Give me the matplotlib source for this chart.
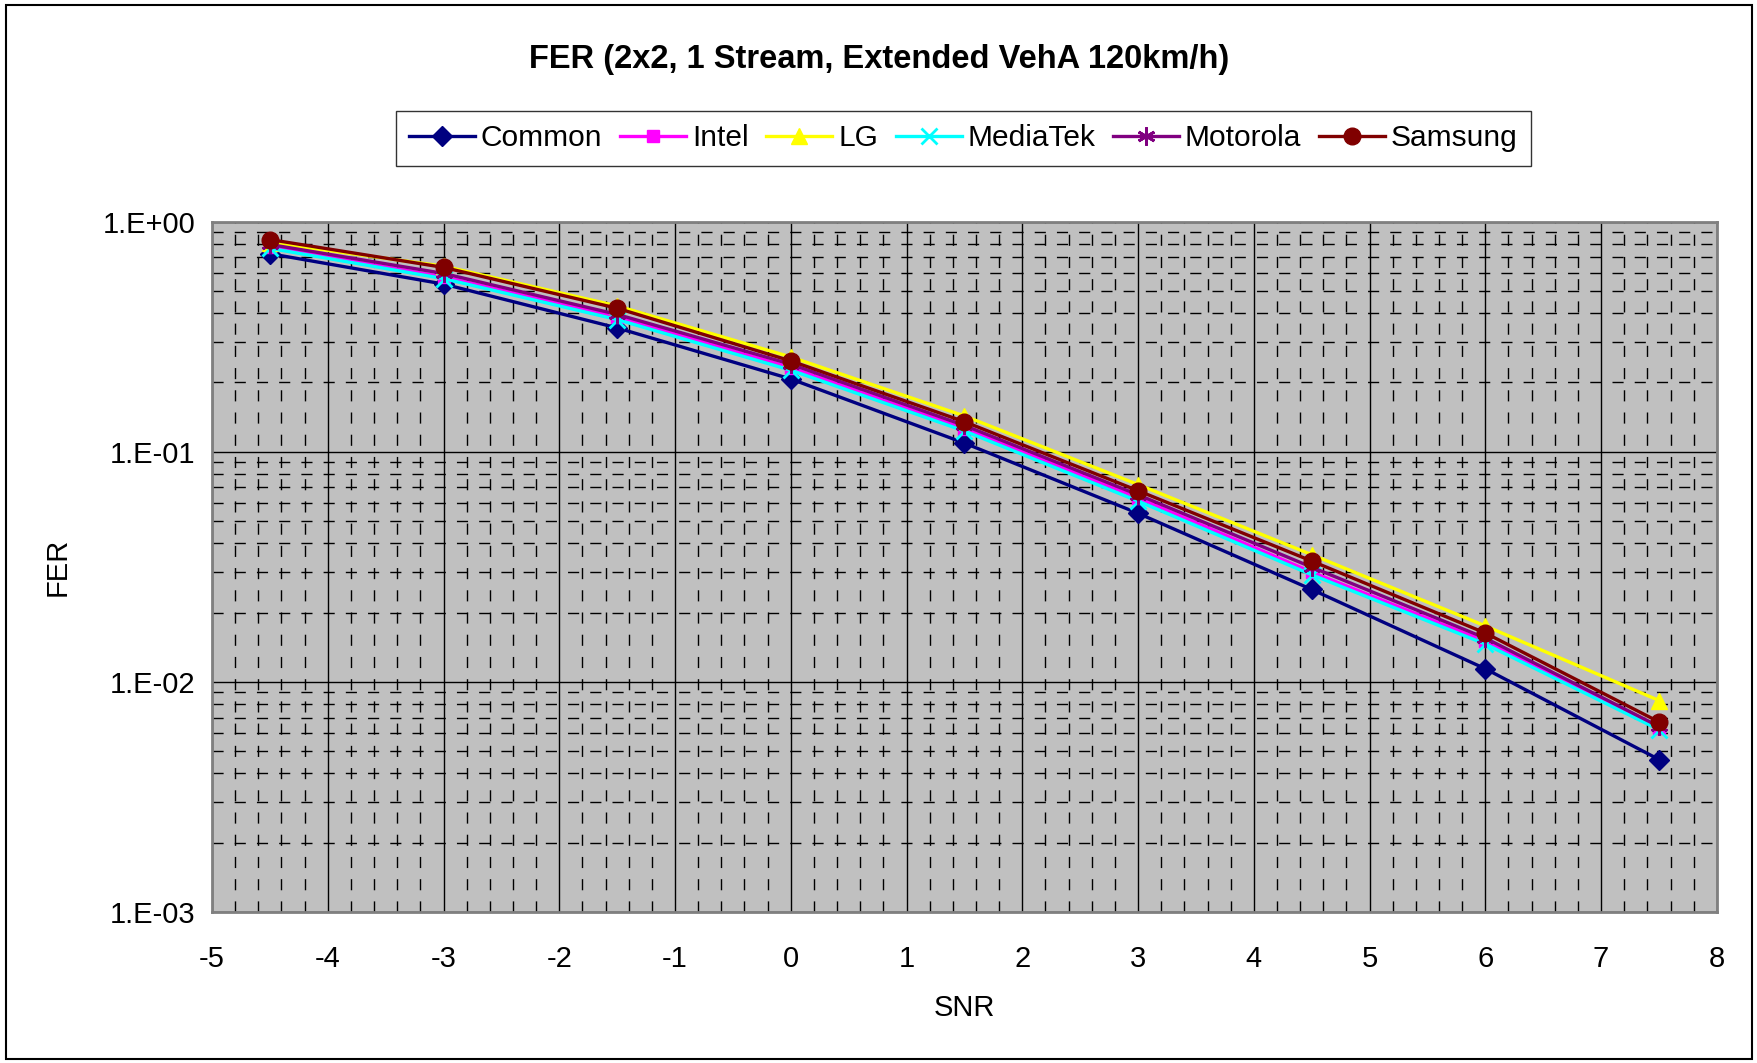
import numpy as np
import matplotlib.pyplot as plt
from matplotlib.ticker import FixedLocator, NullFormatter, MultipleLocator
from matplotlib.patches import Rectangle

plt.rcParams['font.family'] = ['Liberation Sans', 'DejaVu Sans']
plt.rcParams['axes.unicode_minus'] = False

# SNR points
snr = [-4.5, -3, -1.5, 0, 1.5, 3, 4.5, 6, 7.5]

# FER per company
common   = [0.725, 0.535, 0.345, 0.207, 0.109, 0.054, 0.0252, 0.0114, 0.0046]
intel    = [0.775, 0.575, 0.385, 0.232, 0.126, 0.063, 0.0300, 0.0150, 0.0063]
lg       = [0.810, 0.640, 0.430, 0.258, 0.143, 0.0720, 0.0357, 0.0175, 0.0083]
mediatek = [0.765, 0.565, 0.375, 0.226, 0.123, 0.061, 0.0292, 0.0146, 0.0062]
motorola = [0.795, 0.595, 0.395, 0.240, 0.130, 0.065, 0.0315, 0.0155, 0.0064]
samsung  = [0.835, 0.632, 0.420, 0.248, 0.135, 0.0677, 0.0335, 0.0163, 0.0067]

names = ['Common', 'Intel', 'LG', 'MediaTek', 'Motorola', 'Samsung']
series = [common, intel, lg, mediatek, motorola, samsung]
colors = ['#000080', '#FF00FF', '#FFFF00', '#00FFFF', '#800080', '#800000']
markers = ['D', 's', '^', 'x', (6, 2, 0), 'o']
msizes = [10, 9, 12, 11, 13, 12]

fig = plt.figure(figsize=(17.58, 10.63), dpi=100)
ax = fig.add_axes([0.1206, 0.142, 0.856, 0.6496])
ax.set_facecolor('#C0C0C0')

for name, y, c, m, ms in zip(names, series, colors, markers, msizes):
    ax.plot(snr, y, color=c, marker=m, markersize=ms, lw=2.4,
            markeredgecolor=c, markeredgewidth=2 if m in ('x', (6, 2, 0)) else 1,
            label=name)

ax.set_yscale('log')
ax.set_ylim(1e-3, 1)
ax.set_xlim(-5, 8)
ax.xaxis.set_major_locator(MultipleLocator(1))
ax.xaxis.set_minor_locator(MultipleLocator(0.2))
ax.yaxis.set_major_locator(FixedLocator([1e-3, 1e-2, 1e-1, 1]))
ax.yaxis.set_minor_locator(FixedLocator([k * 10.0 ** e for e in (-3, -2, -1) for k in range(2, 10)]))
ax.yaxis.set_minor_formatter(NullFormatter())
ax.set_yticklabels(['1.E-03', '1.E-02', '1.E-01', '1.E+00'])
ax.grid(True, which='major', color='black', lw=1)
ax.grid(True, which='minor', color='black', lw=1, linestyle=(0, (8, 8)))
ax.set_axisbelow(True)
ax.tick_params(which='both', length=0, labelsize=21)
ax.tick_params(axis='x', pad=24)
ax.tick_params(axis='y', pad=12)
for s in ax.spines.values():
    s.set_color('#808080')
    s.set_linewidth(2)

ax.set_xlabel('SNR', fontsize=21, labelpad=15)
ax.set_ylabel('FER', fontsize=21, labelpad=22)

fig.text(0.5, 0.944, 'FER (2x2, 1 Stream, Extended VehA 120km/h)',
         ha='center', va='center', fontsize=23.5, fontweight='bold')

leg = fig.legend(loc='center', bbox_to_anchor=(0.548, 0.870), ncol=6,
                 fontsize=21.5, frameon=True, fancybox=False, edgecolor='black',
                 handlelength=2.2, handletextpad=0.2, columnspacing=0.6,
                 borderpad=0.45)
leg.get_frame().set_linewidth(1)

fig.patches.append(Rectangle((0.0035, 0.004), 0.993, 0.991, transform=fig.transFigure,
                             fill=False, edgecolor='black', lw=1.5))

fig.savefig('out.png', dpi=100)
